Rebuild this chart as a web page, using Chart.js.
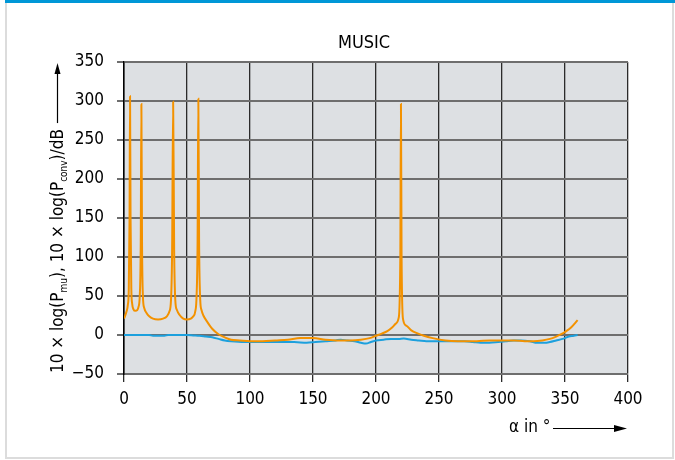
<!DOCTYPE html>
<html>
<head>
<meta charset="utf-8">
<script src="https://cdn.jsdelivr.net/npm/chart.js@4.4.1/dist/chart.umd.min.js"></script>
<style>
  html, body { margin: 0; padding: 0; background: #fff; }
  canvas { display: block; }
</style>
</head>
<body>
<canvas id="myChart" width="675" height="460"></canvas>
<script>
const FONT = "'Liberation Sans Narrow', 'DejaVu Sans Condensed', 'Roboto', sans-serif";

// MUSIC spectrum, 10*log(P_mu) in dB
const muAngles = [0, 1, 2, 3, 3.8, 4.4, 4.8, 5.2, 5.8, 6.5, 7.5, 9, 10.5, 11.5, 12.5, 13.3, 13.8, 14.3, 15, 16, 18, 20, 23, 27, 31, 34, 36, 37.3, 38.2, 39, 39.8, 40.7, 42, 44, 47, 50, 53, 55, 56.5, 57.6, 58.4, 59, 59.6, 60.5, 61.5, 63, 66, 70, 75, 80, 85, 92, 100, 110, 120, 130, 140, 150, 160, 170, 180, 188, 195, 200, 205, 209, 213, 216, 218, 219.3, 219.8, 220.3, 221.5, 224, 228, 233, 238, 245, 255, 265, 280, 290, 300, 310, 318, 325, 332, 338, 343, 347, 351, 355, 360];
const muValues = [21, 25, 30, 38, 60, 150, 306, 150, 60, 40, 33, 31, 32, 36, 50, 120, 296, 120, 50, 35, 28, 24, 21, 20, 21, 24, 30, 45, 110, 299, 110, 45, 32, 26, 21, 20, 21, 24, 30, 50, 120, 303, 120, 45, 32, 25, 17, 8, 1, -3, -6, -7, -8, -8, -7, -6, -4, -4, -6, -7, -7, -6, -4, -1, 2, 5, 10, 15, 22, 100, 296, 100, 20, 12, 6, 2, -1, -4, -7, -8, -8, -7, -7, -7, -8, -8, -7, -5, -2, 1, 5, 10, 19];

// conventional beamformer, 10*log(P_conv) in dB
const convAngles = [0, 10, 20, 23, 32, 35, 50, 55, 60, 65, 70, 75, 80, 85, 95, 110, 125, 135, 145, 152, 160, 168, 172, 177, 183, 188, 192, 196, 200, 206, 212, 218, 222, 228, 234, 240, 250, 260, 270, 277, 283, 290, 297, 303, 309, 315, 322, 328, 334, 338, 343, 348, 353, 357, 360];
const convValues = [0, 0, 0, -1, -1, 0, 0, -0.5, -1, -2, -3, -5, -7, -8, -9, -9, -9, -9, -10, -9, -8, -7, -6, -7, -8, -10, -11, -9, -7, -6, -5, -5, -4.5, -6, -7, -8, -8, -8, -8, -9, -10, -10, -9, -8, -7, -7, -8, -10, -10, -9, -7, -5, -2, -1, 0];

const xTicks = [0, 50, 100, 150, 200, 250, 300, 350, 400];
const yTicks = [-50, 0, 50, 100, 150, 200, 250, 300, 350];

function toPoints(xs, ys) {
  return xs.map((x, i) => ({ x, y: ys[i] }));
}

function arrowHead(ctx, x, y, dx, dy, len, half) {
  // tip at (x,y), pointing along (dx,dy)
  const px = -dy, py = dx;
  ctx.beginPath();
  ctx.moveTo(x, y);
  ctx.lineTo(x - dx * len + px * half, y - dy * len + py * half);
  ctx.lineTo(x - dx * len - px * half, y - dy * len - py * half);
  ctx.closePath();
  ctx.fill();
}

const decor = {
  id: 'decor',
  beforeDraw(chart) {
    const ctx = chart.ctx;
    const a = chart.chartArea;
    ctx.save();
    ctx.fillStyle = '#fff';
    ctx.fillRect(0, 0, chart.width, chart.height);
    // card frame
    ctx.strokeStyle = '#dcdcdc';
    ctx.lineWidth = 2;
    ctx.beginPath();
    ctx.moveTo(6, 0);
    ctx.lineTo(6, 458);
    ctx.lineTo(673, 458);
    ctx.lineTo(673, 0);
    ctx.stroke();
    ctx.fillStyle = '#0097d7';
    ctx.fillRect(5, 0, 670, 3);
    // plot background
    ctx.fillStyle = '#dde0e3';
    ctx.fillRect(a.left, a.top, a.right - a.left, a.bottom - a.top);
    ctx.restore();
  },
  afterDraw(chart) {
    const ctx = chart.ctx;
    ctx.save();
    ctx.fillStyle = '#000';
    ctx.strokeStyle = '#000';

    // title
    ctx.font = '18px ' + FONT;
    ctx.textAlign = 'center';
    ctx.textBaseline = 'middle';
    ctx.fillText('MUSIC', 364, 43);

    // x axis label + arrow
    ctx.font = '17px ' + FONT;
    ctx.textAlign = 'left';
    ctx.textBaseline = 'middle';
    ctx.fillText('α in °', 509, 428);
    ctx.lineWidth = 1.2;
    ctx.beginPath();
    ctx.moveTo(553, 428.5);
    ctx.lineTo(616, 428.5);
    ctx.stroke();
    arrowHead(ctx, 627, 428.5, 1, 0, 13, 3.5);

    // y axis label with subscripts + arrow
    ctx.translate(63, 373);
    ctx.rotate(-Math.PI / 2);
    ctx.textBaseline = 'alphabetic';
    const parts = [
      ['10 × log(P', false],
      ['mu', true],
      ('), 10 × log(P'),
      ['conv', true],
      [')/dB', false]
    ].map(p => Array.isArray(p) ? p : [p, false]);
    let cx = 0;
    for (const [txt, sub] of parts) {
      ctx.font = (sub ? '10px ' : '17px ') + FONT;
      ctx.fillText(txt, cx, sub ? 4 : 0);
      cx += ctx.measureText(txt).width;
    }
    const tip = 373 - 63;
    ctx.lineWidth = 1.2;
    ctx.beginPath();
    ctx.moveTo(cx + 6, -5.5);
    ctx.lineTo(tip - 10, -5.5);
    ctx.stroke();
    arrowHead(ctx, tip, -5.5, 1, 0, 11, 3);
    ctx.restore();
  }
};

const data = {
  datasets: [{
    label: 'P_mu',
    data: toPoints(muAngles, muValues),
    borderColor: '#f39200',
    borderWidth: 2,
    pointRadius: 0,
    cubicInterpolationMode: 'monotone',
    order: 0
  },
  {
    label: 'P_conv',
    data: toPoints(convAngles, convValues),
    borderColor: '#1ca0dd',
    borderWidth: 2,
    pointRadius: 0,
    cubicInterpolationMode: 'monotone',
    order: 1
  }]
};

const config = {
  type: 'line',
  data,
  options: {
    responsive: false,
    animation: false,
    devicePixelRatio: 1,
    layout: { padding: { top: 62, right: 47, left: 0, bottom: 0 } },
    plugins: {
      legend: { display: false },
      tooltip: { enabled: false }
    },
    scales: {
      x: {
        type: 'linear',
        min: 0,
        max: 400,
        afterBuildTicks: s => { s.ticks = xTicks.map(v => ({ value: v })); },
        afterFit: s => { s.height = 86; },
        ticks: { color: '#000', font: { family: FONT, size: 17 }, padding: 7, maxRotation: 0 },
        grid: { color: '#2b2b2b', lineWidth: 1.3, tickLength: 8, tickColor: '#2b2b2b' },
        border: { color: '#6e6e6e', width: 2 }
      },
      y: {
        type: 'linear',
        min: -50,
        max: 350,
        afterBuildTicks: s => { s.ticks = yTicks.map(v => ({ value: v })); },
        afterFit: s => { s.width = 124; },
        ticks: {
          color: '#000',
          font: { family: FONT, size: 17 },
          padding: 13,
          callback: v => String(v).replace('-', '\u2212')
        },
        grid: { color: '#6e6e6e', lineWidth: 2, tickLength: 7, tickColor: '#6e6e6e' },
        border: { color: '#000', width: 1.5 }
      }
    }
  },
  plugins: [decor]
};

new Chart(document.getElementById('myChart'), config);
</script>
</body>
</html>
